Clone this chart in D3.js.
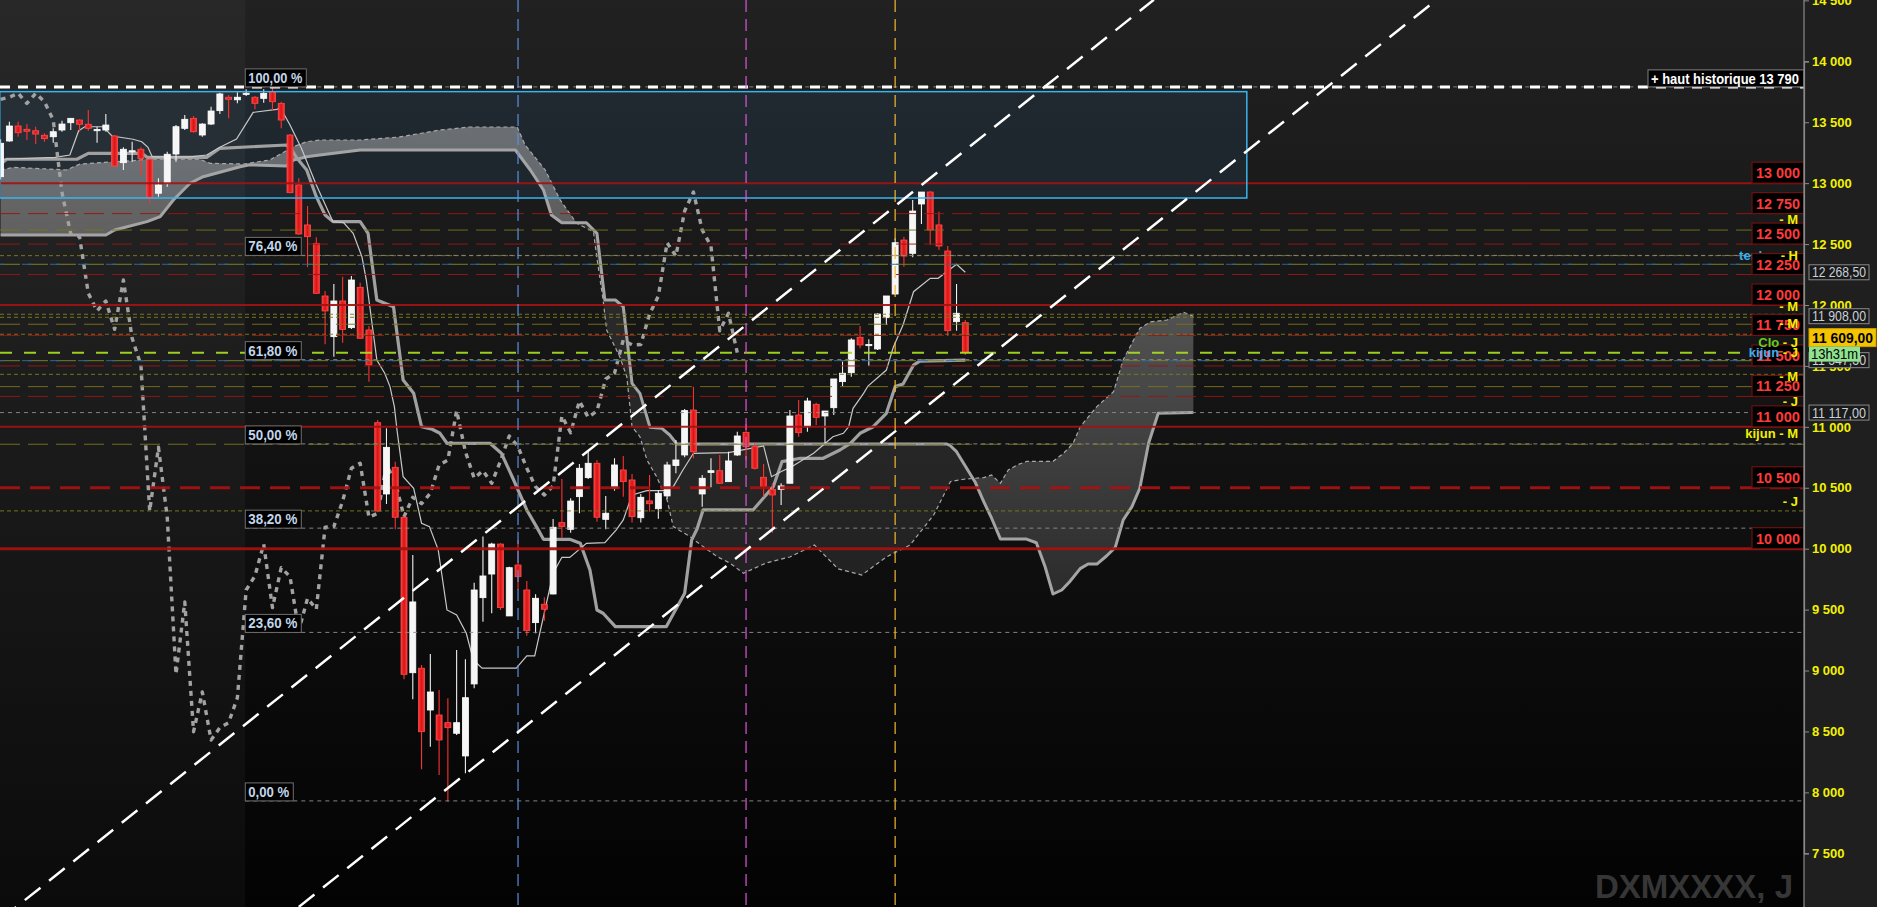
<!DOCTYPE html>
<html><head><meta charset="utf-8">
<script src="https://cdn.jsdelivr.net/npm/d3@7"></script>
<style>html,body{margin:0;padding:0;background:#111;overflow:hidden}svg{display:block;font-family:Arial,"Liberation Sans",sans-serif}</style>
</head><body><svg id="c" width="1877" height="907"></svg>
<script>
// ---------------- DATA ----------------
const opens=[13053,13346,13469,13442,13430,13393,13381,13436,13496,13518,13483,13432,13436,13387,13168,13262,13278,13196,12917,12999,13239,13450,13532,13395,13485,13595,13705,13684,13730,13705,13696,13751,13655,13395,12985,12657,12506,12074,11740,12033,11814,12145,11795,11034,10449,10668,10258,8982,9019,8676,8635,8572,8485,8299,8890,9598,9792,10038,9448,9866,9661,9393,9544,9628,10214,10159,10427,10583,10701,10241,10496,10646,10564,10254,10392,10328,10433,10682,10769,11138,10449,10626,10640,10550,10769,10955,10837,10586,10487,10487,10537,11097,11001,11185,11089,11157,11371,11444,11735,11670,11639,11896,12090,12533,12424,12829,12927,12657,12443,11863,11855];
const highs=[13360,13504,13504,13485,13463,13409,13450,13513,13532,13524,13600,13463,13568,13395,13294,13340,13294,13200,13040,13258,13477,13559,13551,13491,13627,13742,13723,13746,13770,13715,13770,13787,13668,13403,13040,12812,12556,12115,12172,12232,12238,12183,11828,11056,10988,10714,10262,9948,9046,9136,8840,8772,9169,9092,9721,10099,10049,10045,9852,10072,9735,9626,9601,10244,10572,10413,10695,10810,10728,10433,10742,10761,10613,10449,10605,10482,10714,10892,11147,11330,10605,10742,10769,10796,10960,11023,10870,10695,10537,10537,11138,11220,11239,11198,11130,11393,11535,11727,11828,11718,11932,12074,12547,12560,12862,12927,12935,12766,12484,12172,11877];
const lows=[13030,13340,13381,13354,13321,13340,13332,13422,13436,13422,13430,13332,13422,13135,13108,13176,13067,12835,12889,12971,13176,13436,13414,13381,13477,13568,13532,13655,13715,13606,13660,13595,13450,12917,12575,12309,12090,11677,11576,11691,11803,11720,11371,10300,10367,10159,8928,8764,8189,8375,8143,7924,8471,8157,8854,9401,9470,9497,9448,9661,9286,9306,9409,9626,10090,10131,10291,10572,10222,10159,10476,10427,10214,10214,10304,10246,10408,10619,10750,10742,10345,10504,10530,10550,10761,10728,10650,10427,10130,10359,10537,10919,10960,11015,10865,11097,11335,11412,11645,11500,11631,11836,12082,12314,12391,12665,12492,12451,11746,11789,11590];
const closes=[13327,13469,13414,13426,13403,13365,13422,13485,13532,13483,13450,13440,13477,13141,13278,13266,13201,12884,12985,13237,13463,13524,13422,13485,13592,13732,13688,13705,13738,13655,13737,13668,13518,12922,12583,12561,12096,11951,12033,11800,12205,11727,11508,10309,10832,10258,8969,9563,8498,8824,8430,8531,8572,8777,9661,9776,10038,9516,9844,9770,9327,9593,9503,10176,10181,10391,10660,10701,10258,10291,10687,10550,10263,10422,10369,10455,10687,10728,11133,10796,10578,10640,10537,10720,10925,10837,10660,10509,10441,10515,11089,10952,11212,11078,11130,11393,11440,11713,11672,11676,11926,12074,12511,12402,12771,12927,12616,12484,11789,11932,11609];

// Ichimoku lines: [candle index, price]
const tenkan=[[0,13196],[6.2,13212],[7.9,13231],[8.9,13430],[9.6,13463],[11.7,13463],[12.7,13387],[15.1,13360],[16.1,13340],[16.8,13294],[17.3,13215],[21.6,13215],[23.5,13231],[25,13294],[26.9,13362],[28.8,13581],[31.5,13606],[31.9,13619],[33,13477],[34.3,13286],[36,12985],[37.9,12684],[39.1,12676],[40.2,12588],[41.2,12396],[41.7,12205],[42.1,11986],[42.5,11767],[42.9,11549],[43.8,11440],[44.4,11330],[44.9,11166],[45.2,10974],[45.9,10591],[47.1,10496],[48,10209],[48.9,10181],[49.9,9990],[50.9,9497],[52,9456],[53.1,9306],[53.9,9087],[54.9,9019],[58.8,9019],[60,9120],[60.9,9120],[61.9,9442],[63,9798],[64,9929],[64.9,9929],[66.8,10044],[68.9,10049],[70.2,10154],[71,10236],[72,10441],[73.7,10476],[75.6,10476],[76.7,10509],[77.8,10646],[79,10783],[83,10788],[87,10843],[87.9,10591],[89.2,10640],[90.2,10673],[92.7,10783],[94.9,10919],[96.1,10947],[96.7,11001],[97.2,11152],[98.4,11275],[98.9,11335],[101,11466],[101.8,11655],[102.9,11836],[104.1,12109],[106,12219],[106.9,12219],[109,12334],[110,12268.5]];
const kijun=[[0,13157],[0.7,13196],[8.7,13196],[10,13245],[16.1,13245],[16.7,13212],[23.5,13212],[25,13286],[32.6,13313],[33.2,13272],[33.8,13204],[34.9,13108],[36,12889],[37,12739],[37.9,12684],[41,12684],[41.9,12588],[42.9,12041],[44.8,11986],[45.9,11384],[47.1,11275],[48,11001],[49.2,10980],[50.1,10947],[50.9,10865],[55.8,10865],[57.1,10783],[58.5,10564],[60,10318],[61.1,10181],[61.9,10077],[64.9,10077],[66.1,10044],[67.2,9825],[68,9497],[68.7,9470],[70.1,9360],[75.9,9360],[78,9634],[78.8,10072],[79.4,10159],[80.1,10318],[85.8,10318],[88.1,10509],[89.1,10714],[91.2,10742],[93.8,10742],[95.7,10810],[96.9,10865],[98,10947],[99.5,11001],[101,11111],[102,11330],[102.9,11352],[104.1,11507],[104.8,11540],[110,11547.3]];
const senkouA=[[0,13108],[1.45,13130],[3.7,13122],[7.5,13108],[9.05,13157],[12.5,13174],[15.1,13184],[16.7,13196],[22.7,13196],[23.9,13163],[27.7,13157],[30.7,13190],[33.4,13299],[34.9,13340],[36.4,13354],[41,13354],[45.5,13379],[50.1,13436],[53.5,13461],[58.9,13461],[59.8,13314],[62.1,13108],[63.8,12862],[65.7,12670],[67.6,12602],[68,12383],[68.7,12041],[69.1,11795],[70.6,11576],[71.4,11412],[72,11001],[72.9,10919],[73.7,10728],[74.8,10591],[76,10400],[76.7,10181],[78.6,10099],[80.1,10017],[81.7,9935],[83.2,9880],[84.7,9798],[87.3,9883],[90,9932],[92.8,10030],[95.5,9834],[98.2,9784],[101,9932],[103.7,10030],[106.4,10277],[108.3,10550],[109.8,10570],[111.1,10578],[112.1,10583],[113,10605],[114,10537],[114.9,10646],[115.9,10687],[117,10717],[120,10717],[121.2,10783],[122.3,10865],[123.1,11001],[125,11166],[126.9,11288],[128,11549],[129.9,11809],[131.1,11861],[133,11877],[134.9,11940],[136,11908]];
const senkouB=[[0,12574],[12,12574],[13,12616],[16.7,12684],[18.2,12725],[19.7,12862],[21.6,12999],[23.1,13053],[27.3,13135],[28.4,13150],[32.6,13141],[33.4,13190],[34.9,13217],[36.4,13231],[41,13272],[50.1,13272],[58.7,13272],[60.4,13108],[61.9,12944],[62.8,12739],[64,12675],[66.8,12675],[68,12588],[68.9,12041],[70.1,12041],[71,11986],[72,11357],[72.9,11275],[74.05,10996],[75.4,10988],[76.3,10933],[77.1,10859],[107.9,10859],[108.3,10845],[109,10796],[111.1,10550],[112.1,10386],[113,10250],[114,10080],[116.9,10080],[118.1,10049],[119.1,9852],[120,9628],[121,9661],[121.9,9729],[123.1,9836],[124,9874],[125,9874],[126.1,9940],[127.1,10011],[128,10235],[129,10345],[129.9,10496],[130.9,10865],[132,11111],[136,11117]];
const chikouShift=26;

// price levels
const redSolid=[13000,12000,11000,10000];
const redThinDash=[12750,12500,12250,11750,11500,11250];
const redThickDash=[10500];
const redLabelLevels=[13000,12750,12500,12250,12000,11750,11500,11250,11000,10500,10000];
const oliveLong=[12615,11842,11330,10857];
const oliveFine=[12405,11924,11899,11760,11431,10310];
const mixedLevels=[12334,11543];
const grayFull=[11117];
const closeLevel=11609;
const athLevel=13790;
const fibLow=7930, fibHigh=13790, fibStart=27.9;
const fibRatios=[0,0.236,0.382,0.5,0.618,0.764,1];
const fibLabels=["0,00 %","23,60 %","38,20 %","50,00 %","61,80 %","76,40 %","100,00 %"];
const trendUpper=[[0,6957],[131.5,14505]];
const trendLower=[[34,7060],[163.7,14503]];
const boxIdx=[-0.1,142.1], boxPrice=[12878,13751];
const vLines=[{i:59,c:"#5b8fe0"},{i:85,c:"#dd55dd"},{i:102,c:"#f0b830"}];
const yTicks=[7500,8000,8500,9000,9500,10000,10500,11000,11500,12000,12500,13000,13500,14000,14500];
const valueTags=[{v:12268.5,t:"12 268,50"},{v:11908,t:"11 908,00"},{v:11547.3,t:"11 547,30"},{v:11117,t:"11 117,00"}];
const backLabels=[{v:12369,parts:[["tenkan","#3ab0f0"]]}];
const sideLabels=[
 {v:12665,parts:[["- M","#f0f000"]]},
 {v:12369,parts:[["- H","#f0f000"]]},
 {v:11950,parts:[["- M","#f0f000"]]},
 {v:11812,parts:[["- M","#f0f000"]]},
 {v:11655,parts:[["Clo","#66cc22"],[" - J","#f0f000"]]},
 {v:11573,parts:[["kijun","#3ab0f0"],[" - J","#f0f000"]]},
 {v:11377,parts:[["- M","#f0f000"]]},
 {v:11175,parts:[["- J","#f0f000"]]},
 {v:10908,parts:[["kijun - M","#f0f000"]]},
 {v:10350,parts:[["- J","#f0f000"]]}
];

// ---------------- SCALES ----------------
const W=1877,H=907,AX=1804;
const x=d3.scaleLinear().domain([0,110]).range([0.6,0.6+110*8.77]);
const y=d3.scaleLinear().domain([7500,14000]).range([853.3,61.3]);
const sp=v=>d3.format(",")(v).replace(/,/g," ");

const svg=d3.select("#c");
const defs=svg.append("defs");
const bg=defs.append("linearGradient").attr("id","bg").attr("x1",0).attr("y1",0).attr("x2",0).attr("y2",1);
bg.append("stop").attr("offset","0%").attr("stop-color","#212121");
bg.append("stop").attr("offset","100%").attr("stop-color","#030303");
const cg=defs.append("linearGradient").attr("id","cloudBull").attr("gradientUnits","userSpaceOnUse").attr("x1",0).attr("y1",80).attr("x2",0).attr("y2",620);
cg.append("stop").attr("offset","0%").attr("stop-color","rgba(205,205,205,0.46)");
cg.append("stop").attr("offset","100%").attr("stop-color","rgba(205,205,205,0.14)");
const rg=defs.append("linearGradient").attr("id","redBody").attr("x1",0).attr("x2",1).attr("y1",0).attr("y2",0);
rg.append("stop").attr("offset","0%").attr("stop-color","#ff3a3a");
rg.append("stop").attr("offset","50%").attr("stop-color","#d81414");
rg.append("stop").attr("offset","100%").attr("stop-color","#ff3a3a");
defs.append("clipPath").attr("id","plot").append("rect").attr("width",AX).attr("height",H);

svg.append("rect").attr("width",AX).attr("height",H).attr("fill","url(#bg)");
svg.append("rect").attr("x",AX).attr("width",W-AX).attr("height",H).attr("fill","#1f1f1f");

const P=svg.append("g").attr("clip-path","url(#plot)");
P.append("rect").attr("x",0).attr("y",0).attr("width",x(fibStart)).attr("height",H).attr("fill","rgba(255,255,255,0.035)");
P.append("rect").attr("x",x(boxIdx[0])).attr("y",y(boxPrice[1])).attr("width",x(boxIdx[1])-x(boxIdx[0])).attr("height",y(boxPrice[0])-y(boxPrice[1]))
 .attr("fill","rgba(60,140,200,0.11)");

// cloud
function interp(pts,t){if(t<=pts[0][0])return pts[0][1];for(let k=1;k<pts.length;k++){if(t<=pts[k][0]){const[a0,b0]=pts[k-1],[a1,b1]=pts[k];return b0+(b1-b0)*(t-a0)/(a1-a0);}}return pts[pts.length-1][1];}
const grid=d3.range(0,136.001,0.2).map(t=>({t,a:interp(senkouA,t),b:interp(senkouB,t)}));
P.append("path").datum(grid).attr("fill","url(#cloudBull)")
 .attr("d",d3.area().x(d=>x(d.t)).y0(d=>y(d.b)).y1(d=>y(Math.max(d.a,d.b))));
P.append("path").datum(grid).attr("fill","rgba(200,200,200,0.11)")
 .attr("d",d3.area().x(d=>x(d.t)).y0(d=>y(d.a)).y1(d=>y(Math.max(d.a,d.b))));

const line=d3.line().x(d=>x(d[0])).y(d=>y(d[1]));
P.append("path").datum(senkouA).attr("fill","none").attr("stroke","#a8a8a8").attr("stroke-width",1.2).attr("stroke-dasharray","4,3").attr("d",line);
P.append("path").datum(senkouB).attr("fill","none").attr("stroke","#a4a4a4").attr("stroke-width",3).attr("stroke-linejoin","round").attr("d",line);
P.append("path").datum(kijun).attr("fill","none").attr("stroke","#a0a0a0").attr("stroke-width",3.2).attr("stroke-linejoin","round").attr("d",line);
P.append("path").datum(tenkan).attr("fill","none").attr("stroke","#c8c8c8").attr("stroke-width",1.2).attr("d",line);
const chik=closes.map((c,i)=>[i-chikouShift,c]).filter(d=>d[0]>=0);
P.append("path").datum(chik).attr("fill","none").attr("stroke","#a2a2a2").attr("stroke-width",3.4).attr("stroke-dasharray","5,5").attr("stroke-linejoin","round").attr("d",line);

// candles
const cd=closes.map((c,i)=>({i,o:opens[i],h:highs[i],l:lows[i],c}));
const cw=6;
const cgp=P.append("g");
cgp.selectAll("line.w").data(cd).join("line").attr("x1",d=>x(d.i)).attr("x2",d=>x(d.i)).attr("y1",d=>y(d.h)).attr("y2",d=>y(d.l))
 .attr("stroke",d=>d.c>=d.o?"#f0f0f0":"#ff3030").attr("stroke-width",1.1);
cgp.selectAll("rect.b").data(cd).join("rect").attr("x",d=>x(d.i)-cw/2).attr("width",cw)
 .attr("y",d=>y(Math.max(d.o,d.c))).attr("height",d=>Math.max(1.2,Math.abs(y(d.o)-y(d.c))))
 .attr("fill",d=>d.c>=d.o?"#f6f6f6":"url(#redBody)").attr("stroke",d=>d.c>=d.o?"#ffffff":"#ff4a4a").attr("stroke-width",0.8);

// horizontal levels
const HL=P.append("g").attr("opacity",0.92);
function hline(v,color,w,dash,x0){HL.append("line").attr("x1",x0===undefined?0:x0).attr("x2",AX).attr("y1",y(v)).attr("y2",y(v)).attr("stroke",color).attr("stroke-width",w).attr("stroke-dasharray",dash||null);}
oliveLong.forEach(v=>hline(v,"#75751a",1,"20,8"));
oliveFine.forEach(v=>hline(v,"#7d7d22",1,"4,3"));
mixedLevels.forEach(v=>{hline(v,"#7a8a2a",1,"20,8");HL.append("line").attr("x1",0).attr("x2",AX).attr("y1",y(v)).attr("y2",y(v)).attr("stroke","#2c6e9a").attr("stroke-width",1).attr("stroke-dasharray","10,18").attr("stroke-dashoffset",-22);});
grayFull.forEach(v=>hline(v,"#8c8c8c",1,"4,4"));
redThinDash.forEach(v=>hline(v,"#9a1616",1,"20,8"));
redThickDash.forEach(v=>hline(v,"#a81212",3,"20,10"));
redSolid.forEach(v=>hline(v,"#a31212",v===10000?3:2));
hline(closeLevel,"#a8e021",2,"12,12");
const fibVals=fibRatios.map(r=>fibLow+r*(fibHigh-fibLow));
fibVals.forEach(v=>hline(v,"#8e8e8e",1,"4,4",x(fibStart)));
P.append("line").attr("x1",0).attr("x2",AX).attr("y1",y(athLevel)).attr("y2",y(athLevel)).attr("stroke","#ffffff").attr("stroke-width",3).attr("stroke-dasharray","10,8");
P.append("rect").attr("x",x(boxIdx[0])).attr("y",y(boxPrice[1])).attr("width",x(boxIdx[1])-x(boxIdx[0])).attr("height",y(boxPrice[0])-y(boxPrice[1]))
 .attr("fill","none").attr("stroke","#3ab4ee").attr("stroke-width",1.5);
vLines.forEach(v=>P.append("line").attr("x1",x(v.i)).attr("x2",x(v.i)).attr("y1",0).attr("y2",H).attr("stroke",v.c).attr("stroke-width",1.2).attr("stroke-dasharray","12,7"));
[trendUpper,trendLower].forEach(t=>P.append("path").datum(t).attr("fill","none").attr("stroke","#ffffff").attr("stroke-width",2.5).attr("stroke-dasharray","20,11").attr("d",line));

// fib labels
fibVals.forEach((v,k)=>{
 const bw=k===0?48:(k===6?61:56);
 const g=svg.append("g").attr("transform",`translate(${x(fibStart)},${y(v)-18})`);
 g.append("rect").attr("width",bw).attr("height",18).attr("fill","#000").attr("stroke","#707070").attr("stroke-width",1);
 g.append("text").attr("x",3).attr("y",14).attr("fill","#c2d6ea").attr("font-size",14).attr("font-weight","bold").attr("textLength",bw-7).attr("lengthAdjust","spacingAndGlyphs").text(fibLabels[k]);
});

function tag(s,xr){const t=svg.append("text").attr("x",xr).attr("y",y(s.v)).attr("text-anchor","end").attr("font-size",13).attr("font-weight","bold");
 s.parts.forEach(p=>t.append("tspan").attr("fill",p[1]).text(p[0]));}
backLabels.forEach(s=>tag(s,1781));

// red level label boxes
redLabelLevels.forEach(v=>{
 const g=svg.append("g").attr("transform",`translate(1752,${y(v)-21})`);
 g.append("rect").attr("width",52).attr("height",21).attr("fill","#000").attr("stroke","#6e1010").attr("stroke-width",1.2);
 g.append("text").attr("x",26).attr("y",16).attr("text-anchor","middle").attr("fill","#ff3a3a").attr("font-size",15).attr("font-weight","bold").attr("textLength",44).attr("lengthAdjust","spacingAndGlyphs").text(sp(v));
});
sideLabels.forEach(s=>tag(s,1798));

// ATH tag
{const g=svg.append("g").attr("transform",`translate(1648,${y(athLevel)-17})`);
 g.append("rect").attr("width",156).attr("height",17).attr("fill","#000").attr("stroke","#808080");
 g.append("text").attr("x",3).attr("y",14).attr("fill","#fff").attr("font-size",14).attr("font-weight","bold").attr("textLength",148).attr("lengthAdjust","spacingAndGlyphs").text("+ haut historique "+sp(athLevel));}

// axis
const ax=svg.append("g").attr("transform",`translate(${AX},0)`).call(d3.axisRight(y).tickValues(yTicks).tickFormat(sp).tickSize(5).tickPadding(3));
ax.select(".domain").attr("stroke","#8a8a8a").attr("stroke-width",1.2);
ax.selectAll(".tick line").attr("stroke","#8a8a8a");
ax.selectAll(".tick text").attr("fill","#f2f200").attr("font-size",13).attr("font-weight","bold").attr("font-family","Arial, 'Liberation Sans', sans-serif");
svg.append("line").attr("x1",AX).attr("x2",AX).attr("y1",0).attr("y2",H).attr("stroke","#8a8a8a").attr("stroke-width",1.2);

// value tags on axis
valueTags.forEach(d=>{
 const g=svg.append("g").attr("transform",`translate(1809,${y(d.v)-7.5})`);
 g.append("rect").attr("width",60).attr("height",15).attr("fill","#1a1a1a").attr("stroke","#8a8a8a");
 g.append("text").attr("x",3).attr("y",12.5).attr("fill","#c8d0d8").attr("font-size",14).attr("textLength",54).attr("lengthAdjust","spacingAndGlyphs").text(d.t);
});
{const g=svg.append("g").attr("transform",`translate(1809,${y(closeLevel)-24})`);
 g.append("rect").attr("width",67).attr("height",18).attr("fill","#f5c400").attr("stroke","#d0a000");
 g.append("text").attr("x",3).attr("y",14.5).attr("fill","#000").attr("font-size",15).attr("font-weight","bold").attr("textLength",61).attr("lengthAdjust","spacingAndGlyphs").text("11 609,00");}
{const g=svg.append("g").attr("transform",`translate(1809,${y(closeLevel)-6})`);
 g.append("rect").attr("width",51).attr("height",15).attr("fill","#8fe28f");
 g.append("text").attr("x",2).attr("y",12.5).attr("fill","#000").attr("font-size",14).attr("textLength",47).attr("lengthAdjust","spacingAndGlyphs").text("13h31m");}

svg.append("text").attr("x",1793).attr("y",898).attr("text-anchor","end").attr("fill","#363636").attr("font-size",33).attr("font-weight","bold").text("DXMXXXX, J");
</script></body></html>
